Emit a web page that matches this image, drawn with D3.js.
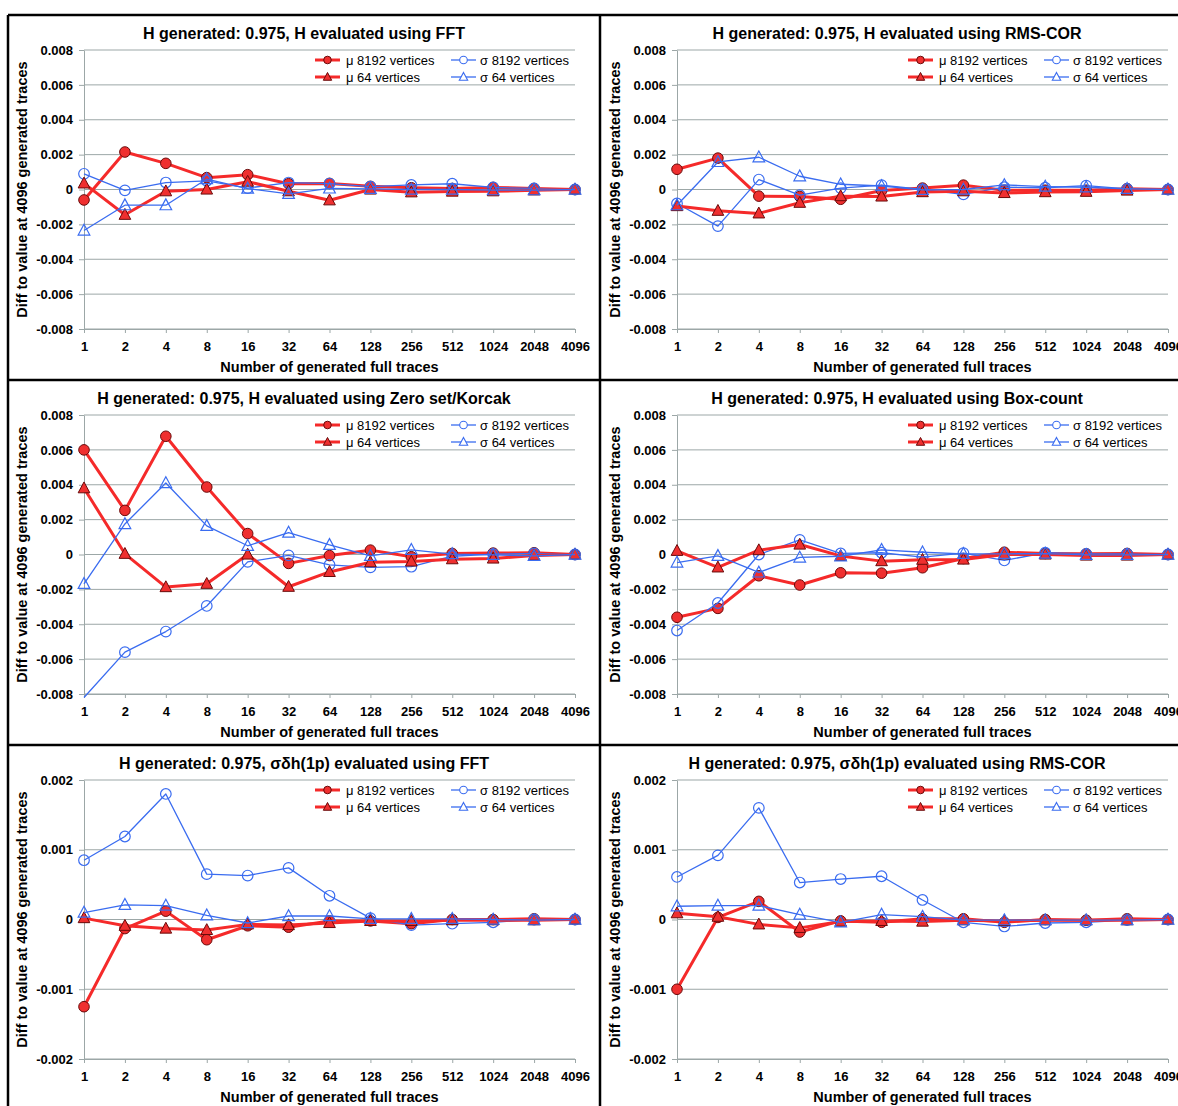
<!DOCTYPE html>
<html>
<head>
<meta charset="utf-8">
<script src="https://cdn.jsdelivr.net/npm/d3@7"></script>
<style>
  body { margin: 0; background: #fff; }
  svg { display: block; }
  text { font-family: "Liberation Sans", Arial, Helvetica, sans-serif; fill: #000; }
</style>
</head>
<body>
<svg id="chart" width="1178" height="1106"></svg>
<script>
// Number of generated full traces (categorical x axis)
const categories = ["1", "2", "4", "8", "16", "32", "64", "128", "256", "512", "1024", "2048", "4096"];

// Y tick values
const hTicks = [0.008, 0.006, 0.004, 0.002, 0, -0.002, -0.004, -0.006, -0.008];
const sdTicks = [0.002, 0.001, 0, -0.001, -0.002];

// Series labels
const seriesNames = ["μ 8192 vertices", "σ 8192 vertices", "μ 64 vertices", "σ 64 vertices"];

// H evaluated using FFT
const fftMu8192    = [-0.0006, 0.00215, 0.0015, 0.00068, 0.00085, 0.00033, 0.00035, 0.00018, 0.0001, 0.00006, 0.00012, 0.00006, 0];
const fftSigma8192 = [0.0009, -0.00005, 0.0004, 0.0005, 0.00008, 0.0004, 0.00034, 0.00016, 0.00026, 0.00033, 0.00012, 0.00006, 0];
const fftMu64      = [0.00035, -0.00145, -0.0001, 0.0, 0.00045, -0.0001, -0.00062, 0.0, -0.00016, -0.00012, -0.0001, -0.00005, 0];
const fftSigma64   = [-0.00235, -0.0009, -0.0009, 0.0006, 0.00005, -0.00025, 0.00006, 0.00004, 0.0, 0.0, -0.00004, -0.00004, 0];

// H evaluated using RMS-COR
const rmsMu8192    = [0.00116, 0.0018, -0.00038, -0.0004, -0.00056, -0.00006, 0.00008, 0.00025, -0.00004, -0.00004, -0.00004, 0.00005, 0];
const rmsSigma8192 = [-0.0008, -0.0021, 0.00057, -0.00032, 0.00008, 0.00025, 0.0, -0.00028, 0.00013, 0.0001, 0.00022, 0.00004, 0];
const rmsMu64      = [-0.00095, -0.00122, -0.00137, -0.00076, -0.00038, -0.0004, -0.00015, -0.0001, -0.0002, -0.00015, -0.00013, -0.00006, 0];
const rmsSigma64   = [-0.0009, 0.00158, 0.00185, 0.00076, 0.0003, 0.0002, -0.00002, 0.0, 0.00026, 0.00017, 0.00013, 0.00004, 0];

// H evaluated using Zero set/Korcak
const zeroMu8192    = [0.006, 0.00253, 0.00678, 0.00387, 0.0012, -0.00051, -0.00006, 0.00025, -0.00013, 0.00006, 0.00008, 0.0001, 0];
const zeroSigma8192 = [-0.0082, -0.0056, -0.00442, -0.00295, -0.00042, -0.00005, -0.00059, -0.00074, -0.0007, -0.0001, 0.00002, 0.00006, 0];
const zeroMu64      = [0.0038, 0.00004, -0.00187, -0.00168, 0.0, -0.00185, -0.001, -0.00044, -0.0004, -0.00027, -0.00023, -0.00006, 0];
const zeroSigma64   = [-0.00168, 0.00175, 0.0041, 0.00164, 0.0005, 0.00126, 0.00055, -0.00008, 0.00027, 0.00002, -0.00002, -0.00008, 0];

// H evaluated using Box-count
const boxMu8192    = [-0.0036, -0.00309, -0.00122, -0.00175, -0.00105, -0.00107, -0.00076, -0.00023, 0.00013, 0.00006, 0.00004, 0.00006, 0];
const boxSigma8192 = [-0.00436, -0.00278, 0.0, 0.00084, 0.00006, 0.0001, -0.00015, 0.00008, -0.00034, 0.0001, 0.00004, 0.00004, 0];
const boxMu64      = [0.00021, -0.00074, 0.00025, 0.00057, -0.00008, -0.00038, -0.0003, -0.00029, 0.0, 0.0, -0.00006, -0.00006, 0];
const boxSigma64   = [-0.00046, -0.00008, -0.00103, -0.00017, -0.0001, 0.00027, 0.00013, 0.00004, 0.00004, 0.00005, -0.00002, -0.00002, 0];

// σδh(1p) evaluated using FFT
const sdFftMu8192    = [-0.00125, -0.00013, 0.00012, -0.00029, -0.00009, -0.00011, -0.00002, -0.00002, -0.00006, 0.0, 0.0, 0.00001, 0];
const sdFftSigma8192 = [0.00085, 0.00119, 0.0018, 0.00065, 0.00063, 0.00074, 0.00034, 0.00002, -0.00008, -0.00006, -0.00004, 0.0, 0];
const sdFftMu64      = [0.00002, -0.00009, -0.00013, -0.00015, -0.00007, -0.00008, -0.00005, -0.00002, -0.00002, -0.00001, -0.00001, -0.00001, 0];
const sdFftSigma64   = [0.0001, 0.00021, 0.0002, 0.00006, -0.00005, 0.00005, 0.00005, 0.00001, 0.00001, 0.00001, 0.0, -0.00001, 0];

// σδh(1p) evaluated using RMS-COR
const sdRmsMu8192    = [-0.001, 0.00003, 0.00026, -0.00018, -0.00002, -0.00004, 0.00001, 0.00001, -0.00004, 0.0, -0.00001, 0.00001, 0];
const sdRmsSigma8192 = [0.00061, 0.00092, 0.0016, 0.00053, 0.00058, 0.00062, 0.00028, -0.00004, -0.0001, -0.00005, -0.00004, -0.00001, 0];
const sdRmsMu64      = [0.00009, 0.00004, -0.00007, -0.00012, -0.00003, -0.00002, -0.00003, -0.00001, -0.00002, -0.00001, -0.00001, -0.00001, 0];
const sdRmsSigma64   = [0.00019, 0.0002, 0.0002, 0.00007, -0.00004, 0.00007, 0.00004, -0.00001, -0.00001, -0.00001, -0.00001, -0.00001, 0];

const panels = [
  { title: "H generated: 0.975, H evaluated using FFT", ticks: hTicks,
    series: [fftMu8192, fftSigma8192, fftMu64, fftSigma64] },
  { title: "H generated: 0.975, H evaluated using RMS-COR", ticks: hTicks,
    series: [rmsMu8192, rmsSigma8192, rmsMu64, rmsSigma64] },
  { title: "H generated: 0.975, H evaluated using Zero set/Korcak", ticks: hTicks,
    series: [zeroMu8192, zeroSigma8192, zeroMu64, zeroSigma64] },
  { title: "H generated: 0.975, H evaluated using Box-count", ticks: hTicks,
    series: [boxMu8192, boxSigma8192, boxMu64, boxSigma64] },
  { title: "H generated: 0.975, σδh(1p) evaluated using FFT", ticks: sdTicks,
    series: [sdFftMu8192, sdFftSigma8192, sdFftMu64, sdFftSigma64] },
  { title: "H generated: 0.975, σδh(1p) evaluated using RMS-COR", ticks: sdTicks,
    series: [sdRmsMu8192, sdRmsSigma8192, sdRmsMu64, sdRmsSigma64] }
];

// Visual style of each series (same order as seriesNames)
const RED = "#f52a2a", RED_EDGE = "#6a0a0a", BLUE = "#3a6cf0";
const styles = [
  { color: RED,  width: 3,   shape: "circle",   fill: "#ef2f2f", edge: RED_EDGE },
  { color: BLUE, width: 1.3, shape: "circle",   fill: "none",    edge: BLUE },
  { color: RED,  width: 3,   shape: "triangle", fill: "#ef2f2f", edge: RED_EDGE },
  { color: BLUE, width: 1.3, shape: "triangle", fill: "none",    edge: BLUE }
];

const GRID = "#9ca7a7";
const fmt = d => d === 0 ? "0" : (d < 0 ? "-" : "") + Math.abs(d).toFixed(3);

const svg = d3.select("#chart");

// Plot-area geometry for the top-left panel; others are offset copies
const L = 84, R = 575, T = 50, B = 329;
const COL_W = 593, ROW_H = 365;

function marker(sel, shape, r) {
  if (shape === "circle") {
    sel.append("circle").attr("r", r);
  } else {
    const h = r * 2.05, w = r * 2.2;
    sel.append("path").attr("d", `M0,${-h * 0.58}L${w / 2},${h * 0.42}L${-w / 2},${h * 0.42}Z`);
  }
}

panels.forEach((p, i) => {
  const col = i % 2, row = Math.floor(i / 2);
  const g = svg.append("g").attr("transform", `translate(${col * COL_W},${row * ROW_H})`);

  const x = d3.scalePoint().domain(categories).range([L, R]);
  const yDomain = d3.extent(p.ticks);
  const y = d3.scaleLinear().domain(yDomain).range([B, T]);

  // title
  g.append("text")
    .attr("x", 304).attr("y", T - 11)
    .attr("text-anchor", "middle")
    .style("font-size", "16px").style("font-weight", "bold")
    .text(p.title);

  // horizontal gridlines
  g.append("g").selectAll("line").data(p.ticks).join("line")
    .attr("x1", L).attr("x2", R)
    .attr("y1", d => y(d)).attr("y2", d => y(d))
    .attr("stroke", GRID).attr("stroke-width", 1);

  // y axis
  const yAxis = g.append("g").attr("transform", `translate(${L},0)`)
    .call(d3.axisLeft(y).tickValues(p.ticks).tickFormat(fmt).tickSize(5).tickPadding(6).tickSizeOuter(0));
  yAxis.select(".domain").attr("stroke", GRID);
  yAxis.selectAll(".tick line").attr("stroke", GRID);
  yAxis.selectAll("text").style("font-size", "13px").style("font-weight", "bold")
    .style("font-family", "'Liberation Sans', Arial, sans-serif");

  // x axis
  const xAxis = g.append("g").attr("transform", `translate(0,${B})`)
    .call(d3.axisBottom(x).tickSize(4).tickPadding(9).tickSizeOuter(0));
  xAxis.select(".domain").attr("stroke", GRID);
  xAxis.selectAll(".tick line").attr("stroke", GRID);
  xAxis.selectAll("text").style("font-size", "13px").style("font-weight", "bold")
    .style("font-family", "'Liberation Sans', Arial, sans-serif");

  // axis titles
  g.append("text")
    .attr("x", (L + R) / 2 - 0).attr("y", B + 43)
    .attr("text-anchor", "middle")
    .style("font-size", "14.5px").style("font-weight", "bold")
    .text("Number of generated full traces");
  g.append("text")
    .attr("transform", `translate(27,${(T + B) / 2}) rotate(-90)`)
    .attr("text-anchor", "middle")
    .style("font-size", "14.5px").style("font-weight", "bold")
    .text("Diff to value at 4096 generated traces");

  // series: line then markers, in series order
  const line = d3.line().x((d, k) => x(categories[k])).y(d => y(d));
  p.series.forEach((vals, s) => {
    const st = styles[s];
    g.append("path").datum(vals)
      .attr("d", line)
      .attr("fill", "none")
      .attr("stroke", st.color)
      .attr("stroke-width", st.width)
      .attr("stroke-linejoin", "round");
    const inRange = vals.map((v, k) => ({ v, k })).filter(o => o.v >= yDomain[0] && o.v <= yDomain[1]);
    g.append("g").selectAll("g").data(inRange).join("g")
      .attr("transform", o => `translate(${x(categories[o.k])},${y(o.v)})`)
      .each(function () { marker(d3.select(this), st.shape, 5.3); })
      .selectAll("circle,path")
      .attr("fill", st.fill).attr("stroke", st.edge).attr("stroke-width", st.fill === "none" ? 1.2 : 1);
  });

  // legend (two columns, two rows)
  const legendPos = [
    { lx: 315, tx: 346, ly: 60 }, { lx: 451, tx: 480, ly: 60 },
    { lx: 315, tx: 346, ly: 77 }, { lx: 451, tx: 480, ly: 77 }
  ];
  seriesNames.forEach((name, s) => {
    const st = styles[s], pos = legendPos[s];
    const lg = g.append("g");
    lg.append("line")
      .attr("x1", pos.lx).attr("x2", pos.lx + 25)
      .attr("y1", pos.ly).attr("y2", pos.ly)
      .attr("stroke", st.color).attr("stroke-width", st.width);
    const m = lg.append("g").attr("transform", `translate(${pos.lx + 12.5},${pos.ly})`);
    marker(m, st.shape, 3.8);
    m.selectAll("circle,path").attr("fill", st.fill === "none" ? "#fff" : st.fill)
      .attr("stroke", st.edge).attr("stroke-width", st.fill === "none" ? 1.1 : 1);
    lg.append("text")
      .attr("x", pos.tx).attr("y", pos.ly + 4.5)
      .style("font-size", "13px")
      .text(name);
  });
});

// frame lines separating the panels
const frame = svg.append("g").attr("stroke", "#000").attr("stroke-width", 2.5);
frame.append("line").attr("x1", 8).attr("x2", 1178).attr("y1", 15).attr("y2", 15);
frame.append("line").attr("x1", 8).attr("x2", 8).attr("y1", 15).attr("y2", 1106);
frame.append("line").attr("x1", 600).attr("x2", 600).attr("y1", 15).attr("y2", 1106);
frame.append("line").attr("x1", 8).attr("x2", 1178).attr("y1", 380).attr("y2", 380);
frame.append("line").attr("x1", 8).attr("x2", 1178).attr("y1", 745).attr("y2", 745);
</script>
</body>
</html>
